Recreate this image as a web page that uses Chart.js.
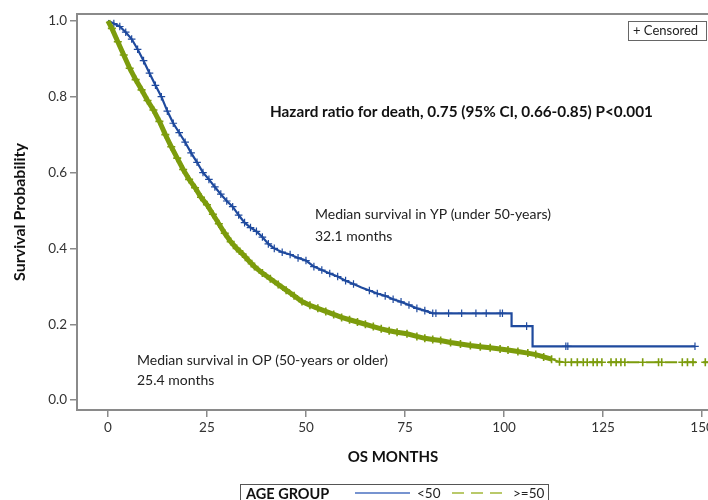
<!DOCTYPE html>
<html>
<head>
<meta charset="utf-8">
<script src="https://cdn.jsdelivr.net/npm/chart.js@4.4.1/dist/chart.umd.min.js"></script>
<style>
  html, body { margin: 0; padding: 0; background: #fff; overflow: hidden; }
  #wrap { width: 708px; height: 500px; overflow: hidden; position: relative; }
  canvas { display: block; }
</style>
</head>
<body>
<div id="wrap"><canvas id="c" width="720" height="500"></canvas></div>
<script>
// ---- Data ----
const xTicks = [0, 25, 50, 75, 100, 125, 150];
const yTicks = [0.0, 0.2, 0.4, 0.6, 0.8, 1.0];

// Age < 50 (Kaplan-Meier estimate), months / survival / censored flag
const youngMonths = [0,1.5,3,4.5,6,7.5,9,10.5,12,13.5,15,16.5,18,19.5,21,22.5,24,25.5,27,28.5,30,31.5,33,34.5,36,37.5,39,40.5,42,44,46,48,50,52,54,56,58,60,62,64,66,68,70,72,74,76,78,80,82,82.8,86,89.3,92.9,95.5,99,99.6,101.9,101.9,105.7,107.2,107.2,115.6,116.1,148.2];
const youngSurv   = [1.0,0.993,0.985,0.97,0.952,0.925,0.895,0.862,0.83,0.8,0.762,0.73,0.705,0.68,0.652,0.627,0.6,0.582,0.562,0.543,0.525,0.51,0.488,0.468,0.455,0.445,0.43,0.412,0.4,0.39,0.384,0.375,0.368,0.352,0.343,0.334,0.326,0.315,0.306,0.297,0.289,0.281,0.275,0.266,0.259,0.251,0.242,0.236,0.229,0.229,0.229,0.229,0.229,0.229,0.229,0.229,0.229,0.195,0.195,0.195,0.142,0.142,0.142,0.142];
const youngCens   = [0,1,1,1,1,1,1,1,1,1,1,1,1,1,1,1,1,1,1,1,1,1,1,1,1,1,1,1,1,1,1,1,1,1,1,1,1,1,1,0,1,1,1,1,1,1,1,1,1,1,1,1,1,1,1,1,0,0,1,0,0,1,1,1];

// Age >= 50
const oldMonths = [0,1,2.5,4,5.5,7,8.5,10,11.5,13,14.5,16,17.5,19,20.5,22,23.5,25,26.5,28,29.5,31,32.5,34,35.5,37,39,41,43,45,47,49,51,53,55,57,59,61,63,65,67,69,71,73,75.5,78,80,82,84,86.5,89,91.5,94,96.5,99,101,103.5,106,108,110,112,114,115.5,117,118.5,120,121,122.5,123.5,124.7,127,128.3,129.5,130.5,135,139,139.8,145,146.3,147.7,150.8,153];
const oldSurv   = [1.0,0.98,0.945,0.91,0.875,0.845,0.818,0.79,0.765,0.735,0.7,0.668,0.638,0.608,0.582,0.56,0.535,0.515,0.49,0.465,0.44,0.418,0.4,0.385,0.368,0.352,0.335,0.32,0.305,0.29,0.275,0.26,0.25,0.242,0.234,0.226,0.218,0.212,0.206,0.2,0.194,0.188,0.183,0.179,0.175,0.168,0.163,0.16,0.157,0.152,0.148,0.144,0.141,0.138,0.135,0.132,0.128,0.124,0.12,0.114,0.108,0.101,0.1,0.1,0.1,0.1,0.1,0.1,0.1,0.1,0.1,0.1,0.1,0.1,0.1,0.1,0.1,0.1,0.1,0.1,0.1,0.1];
const oldCens   = [0,1,1,1,1,1,1,1,1,1,1,1,1,1,1,1,1,1,1,1,1,1,1,1,1,1,1,1,1,1,1,1,1,1,1,1,1,1,1,1,1,1,1,1,1,1,1,1,1,1,1,1,1,1,1,1,1,1,1,1,1,1,1,1,1,1,1,1,1,1,1,1,1,1,1,1,1,1,1,1,1,0];

const seriesNames = ['<50', '>=50'];
const legendTitle = 'AGE GROUP';
const xTitle = 'OS MONTHS';
const yTitle = 'Survival Probability';
const hazardText = 'Hazard ratio for death, 0.75 (95% CI, 0.66-0.85) P<0.001';
const ypText = ['Median survival in YP (under 50-years)', '32.1 months'];
const opText = ['Median survival in OP (50-years or older)', '25.4 months'];
const censoredText = '+ Censored';

// ---- Styling ----
const BLUE = '#1f4a9e';
const GREEN = '#7c9c0c';
const LEG_BLUE = '#4a70c0';
const LEG_GREEN = '#a2b83a';
const FRAME = '#8a8a8a';
const FONT = 'Lato, "Open Sans", sans-serif';
const DENSE_END = 112; // months: censor marks are packed up to here for >=50

function pts(xs, ys) { return xs.map((x, i) => ({ x: x, y: ys[i] })); }

const decor = {
  id: 'decor',
  afterDraw(chart) {
    const ctx = chart.ctx, a = chart.chartArea;
    ctx.save();
    ctx.strokeStyle = FRAME; ctx.lineWidth = 2;
    ctx.beginPath();
    ctx.moveTo(a.left - 1, a.top); ctx.lineTo(a.right, a.top); ctx.lineTo(a.right, a.bottom);
    ctx.stroke();

    ctx.textBaseline = 'middle';
    ctx.textAlign = 'left';
    ctx.fillStyle = '#111';
    ctx.font = 'bold 15.3px ' + FONT;
    ctx.fillText(hazardText, 270, 112);
    ctx.font = '14px ' + FONT;
    ctx.fillStyle = '#222';
    ctx.fillText(ypText[0], 315, 214);
    ctx.fillText(ypText[1], 315, 236);
    ctx.fillText(opText[0], 137, 360);
    ctx.fillText(opText[1], 137, 380);

    ctx.strokeStyle = '#666'; ctx.lineWidth = 1;
    ctx.strokeRect(628.5, 21.5, 78, 19);
    ctx.font = '13px ' + FONT;
    ctx.fillStyle = '#222';
    ctx.fillText(censoredText, 633, 31);

    ctx.fillStyle = '#111';
    ctx.font = 'bold 15px ' + FONT;
    ctx.textAlign = 'center';
    ctx.fillText(xTitle, 393, 457);
    ctx.save();
    ctx.translate(20, 212);
    ctx.rotate(-Math.PI / 2);
    ctx.font = 'bold 16px ' + FONT;
    ctx.fillText(yTitle, 0, 0);
    ctx.restore();

    ctx.strokeStyle = '#555'; ctx.lineWidth = 1;
    ctx.strokeRect(240.5, 484.5, 308, 30);
    ctx.textAlign = 'left';
    ctx.font = 'bold 14.5px ' + FONT;
    ctx.fillStyle = '#111';
    ctx.fillText(legendTitle, 246, 494);
    ctx.lineWidth = 1.6;
    ctx.strokeStyle = LEG_BLUE;
    ctx.beginPath(); ctx.moveTo(355, 493); ctx.lineTo(410, 493); ctx.stroke();
    ctx.font = '13.5px ' + FONT;
    ctx.fillStyle = '#222';
    ctx.fillText(seriesNames[0], 417, 494);
    ctx.strokeStyle = LEG_GREEN;
    ctx.setLineDash([12, 7]);
    ctx.beginPath(); ctx.moveTo(452, 493); ctx.lineTo(507, 493); ctx.stroke();
    ctx.setLineDash([]);
    ctx.fillText(seriesNames[1], 513, 494);
    ctx.restore();
  }
};

new Chart(document.getElementById('c'), {
  type: 'line',
  data: {
    datasets: [
      {
        label: seriesNames[1],
        data: pts(oldMonths, oldSurv),
        borderColor: GREEN,
        backgroundColor: GREEN,
        borderWidth: 2,
        borderDash: [12, 7],
        segment: {
          borderDash: c => c.p0.parsed.x < DENSE_END ? [] : [12, 7],
          borderWidth: c => c.p0.parsed.x < DENSE_END ? 5 : 2
        },
        pointStyle: 'cross',
        pointRadius: oldCens.map(c => c ? 4 : 0),
        pointBorderColor: GREEN,
        pointBorderWidth: 1.6,
        tension: 0,
        fill: false
      },
      {
        label: seriesNames[0],
        data: pts(youngMonths, youngSurv),
        borderColor: BLUE,
        backgroundColor: BLUE,
        borderWidth: 2.2,
        pointStyle: 'cross',
        pointRadius: youngCens.map(c => c ? 3.8 : 0),
        pointBorderColor: BLUE,
        pointBorderWidth: 1.2,
        tension: 0,
        fill: false
      }
    ]
  },
  options: {
    responsive: false,
    animation: false,
    events: [],
    layout: { padding: { top: 14, right: 6, left: 0, bottom: 0 } },
    plugins: { legend: { display: false }, tooltip: { enabled: false }, title: { display: false } },
    scales: {
      x: {
        type: 'linear',
        min: -7.8, max: 153,
        afterBuildTicks: s => { s.ticks = xTicks.map(v => ({ value: v })); },
        afterFit: s => { s.height = 90; },
        ticks: { color: '#333', font: { family: FONT, size: 13.5 }, padding: 3, maxRotation: 0, autoSkip: false },
        grid: { display: true, drawOnChartArea: false, drawTicks: true, tickLength: 7, color: FRAME, lineWidth: 1.5 },
        border: { display: true, color: FRAME, width: 2 }
      },
      y: {
        type: 'linear',
        min: -0.026, max: 1.018,
        afterBuildTicks: s => { s.ticks = yTicks.map(v => ({ value: v })); },
        afterFit: s => { s.width = 77; },
        ticks: { color: '#333', font: { family: FONT, size: 13.5 }, padding: 3, callback: v => Number(v).toFixed(1), autoSkip: false },
        grid: { display: true, drawOnChartArea: false, drawTicks: true, tickLength: 7, color: FRAME, lineWidth: 1.5 },
        border: { display: true, color: FRAME, width: 2 }
      }
    }
  },
  plugins: [decor]
});
</script>
</body>
</html>
